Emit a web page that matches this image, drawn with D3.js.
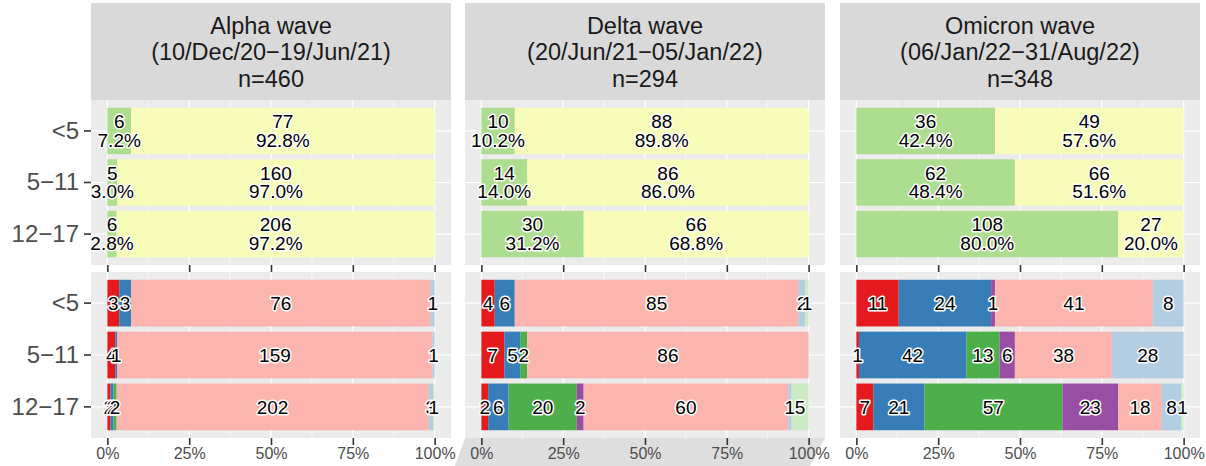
<!DOCTYPE html>
<html>
<head>
<meta charset="utf-8">
<script src="https://cdn.jsdelivr.net/npm/d3@7"></script>
<style>
  body { margin: 0; background: #fff; }
  svg { font-family: "Liberation Sans", Arial, sans-serif; }
</style>
</head>
<body>
<svg id="chart" width="1206" height="466"></svg>
<script>
const waves = ["Alpha wave", "Delta wave", "Omicron wave"];
const wavePeriods = ["(10/Dec/20\u221219/Jun/21)", "(20/Jun/21\u221205/Jan/22)", "(06/Jan/22\u221231/Aug/22)"];
const ageGroups = ["<5", "5\u221211", "12\u221217"];

// top row: two groups per age band
const topKeys = ["group1", "group2"];
const topColors = ["#ADDD8E", "#F7FCB9"];
const alphaTop = [[6, 77], [5, 160], [6, 206]];
const deltaTop = [[10, 88], [14, 86], [30, 66]];
const omicronTop = [[36, 49], [62, 66], [108, 27]];

// bottom row: seven categories per age band
const bottomKeys = ["cat1", "cat2", "cat3", "cat4", "cat5", "cat6", "cat7"];
const bottomColors = ["#E41A1C", "#377EB8", "#4DAF4A", "#984EA3", "#FBB4AE", "#B3CDE3", "#CCEBC5"];
const alphaBottom = [[3, 3, 0, 0, 76, 1, 0], [4, 1, 0, 0, 159, 1, 0], [2, 2, 2, 0, 202, 3, 1]];
const deltaBottom = [[4, 6, 0, 0, 85, 2, 1], [7, 5, 2, 0, 86, 0, 0], [2, 6, 20, 2, 60, 1, 5]];
const omicronBottom = [[11, 24, 0, 1, 41, 8, 0], [1, 42, 13, 6, 38, 28, 0], [7, 21, 57, 23, 18, 8, 1]];

const xTicks = [0, 0.25, 0.5, 0.75, 1];
const xTickLabels = ["0%", "25%", "50%", "75%", "100%"];
const xMinor = [0.125, 0.375, 0.625, 0.875];

const topData = [alphaTop, deltaTop, omicronTop];
const bottomData = [alphaBottom, deltaBottom, omicronBottom];

const svg = d3.select("#chart");
const panelLeft = [91, 465, 840];
const panelW = 360;
const stripTop = 3, stripBottom = 100;
const topPanel = [100, 265];
const bottomPanel = [272, 438];
const tickLen = 7;

// rounds half to even like R's sprintf
function pct(v) {
  const x = v * 1000;
  let r = Math.round(x);
  if (Math.abs(x - Math.floor(x) - 0.5) < 1e-9) r = Math.floor(x) % 2 === 0 ? Math.floor(x) : Math.ceil(x);
  return (r / 10).toFixed(1) + "%";
}

// odd grey shape under the middle panel's axis
svg.append("polygon")
  .attr("points", "465,438 825,438 810,466 455,466")
  .attr("fill", "#DEDEDE");

function stackRows(rows, keys) {
  return rows.map((row, i) => {
    const total = d3.sum(row);
    let acc = 0;
    return row.map((v, k) => {
      const seg = { age: ageGroups[i], key: keys[k], k, v, total, x0: acc / total, x1: (acc + v) / total };
      acc += v;
      return seg;
    }).filter(d => d.v > 0);
  }).flat();
}

function drawPanel(g, x, y0, y1, segs, colors, twoLine, showXLabels) {
  const y = d3.scaleBand().domain(ageGroups).range([y0, y1]).paddingInner(0.1).paddingOuter(0.15);

  g.append("rect")
    .attr("x", x.range()[0]).attr("y", y0)
    .attr("width", panelW).attr("height", y1 - y0)
    .attr("fill", "#EBEBEB");

  g.selectAll(".minor").data(xMinor).enter().append("line")
    .attr("x1", d => x(d)).attr("x2", d => x(d))
    .attr("y1", y0).attr("y2", y1)
    .attr("stroke", "#fff").attr("stroke-width", 0.6);

  g.selectAll(".major").data(xTicks).enter().append("line")
    .attr("x1", d => x(d)).attr("x2", d => x(d))
    .attr("y1", y0).attr("y2", y1)
    .attr("stroke", "#fff").attr("stroke-width", 1.2);

  g.selectAll(".hgrid").data(ageGroups).enter().append("line")
    .attr("x1", x.range()[0]).attr("x2", x.range()[1])
    .attr("y1", d => y(d) + y.bandwidth() / 2).attr("y2", d => y(d) + y.bandwidth() / 2)
    .attr("stroke", "#fff").attr("stroke-width", 1.2);

  g.selectAll(".seg").data(segs).enter().append("rect")
    .attr("x", d => x(d.x0))
    .attr("y", d => y(d.age))
    .attr("width", d => x(d.x1) - x(d.x0))
    .attr("height", y.bandwidth())
    .attr("fill", d => colors[d.k]);

  const labels = g.selectAll(".lab").data(segs).enter().append("text")
    .attr("x", d => (x(d.x0) + x(d.x1)) / 2)
    .attr("y", d => y(d.age) + y.bandwidth() / 2)
    .attr("text-anchor", "middle")
    .style("font-size", "19px")
    .attr("fill", "#000")
    .attr("stroke", "#fff")
    .attr("stroke-width", 3)
    .attr("stroke-linejoin", "round")
    .attr("paint-order", "stroke");

  if (twoLine) {
    labels.append("tspan").attr("x", d => (x(d.x0) + x(d.x1)) / 2).attr("dy", "-0.15em").text(d => d.v);
    labels.append("tspan").attr("x", d => (x(d.x0) + x(d.x1)) / 2).attr("dy", "0.98em").text(d => pct(d.v / d.total));
  } else {
    labels.attr("dy", "0.36em").text(d => d.v);
  }

  const xAxis = d3.axisBottom(x).tickValues(xTicks).tickSize(tickLen).tickPadding(3)
    .tickFormat((d, i) => showXLabels ? xTickLabels[i] : "");
  const ax = g.append("g").attr("transform", `translate(0,${y1})`).call(xAxis);
  ax.select(".domain").remove();
  ax.selectAll("line").attr("stroke", "#333").attr("stroke-width", 1.6);
  ax.selectAll("text").attr("fill", "#4D4D4D").style("font-size", "16px")
    .style("font-family", "'Liberation Sans', Arial, sans-serif");

  return y;
}

waves.forEach((w, i) => {
  const left = panelLeft[i];
  const g = svg.append("g");
  const x = d3.scaleLinear().domain([-0.05, 1.05]).range([left, left + panelW]);

  g.append("rect")
    .attr("x", left).attr("y", stripTop)
    .attr("width", panelW).attr("height", stripBottom - stripTop)
    .attr("fill", "#D9D9D9");

  const strip = g.append("text")
    .attr("text-anchor", "middle")
    .attr("fill", "#1A1A1A")
    .style("font-size", "23.5px");
  const n = d3.sum(topData[i].flat());
  [w, wavePeriods[i], "n=" + n].forEach((t, j) => {
    strip.append("tspan").attr("x", left + panelW / 2).attr("y", 34 + j * 26.3).text(t);
  });

  const yTop = drawPanel(g, x, topPanel[0], topPanel[1], stackRows(topData[i], topKeys), topColors, true, false);
  const yBot = drawPanel(g, x, bottomPanel[0], bottomPanel[1], stackRows(bottomData[i], bottomKeys), bottomColors, false, true);

  if (i === 0) {
    [yTop, yBot].forEach(yy => {
      const ay = svg.append("g").attr("transform", `translate(${left},0)`)
        .call(d3.axisLeft(yy).tickSize(tickLen).tickPadding(5));
      ay.select(".domain").remove();
      ay.selectAll("line").attr("stroke", "#333").attr("stroke-width", 1.6);
      ay.selectAll("text").attr("fill", "#4D4D4D").style("font-size", "24px")
        .style("font-family", "'Liberation Sans', Arial, sans-serif");
    });
  }
});
</script>
</body>
</html>
